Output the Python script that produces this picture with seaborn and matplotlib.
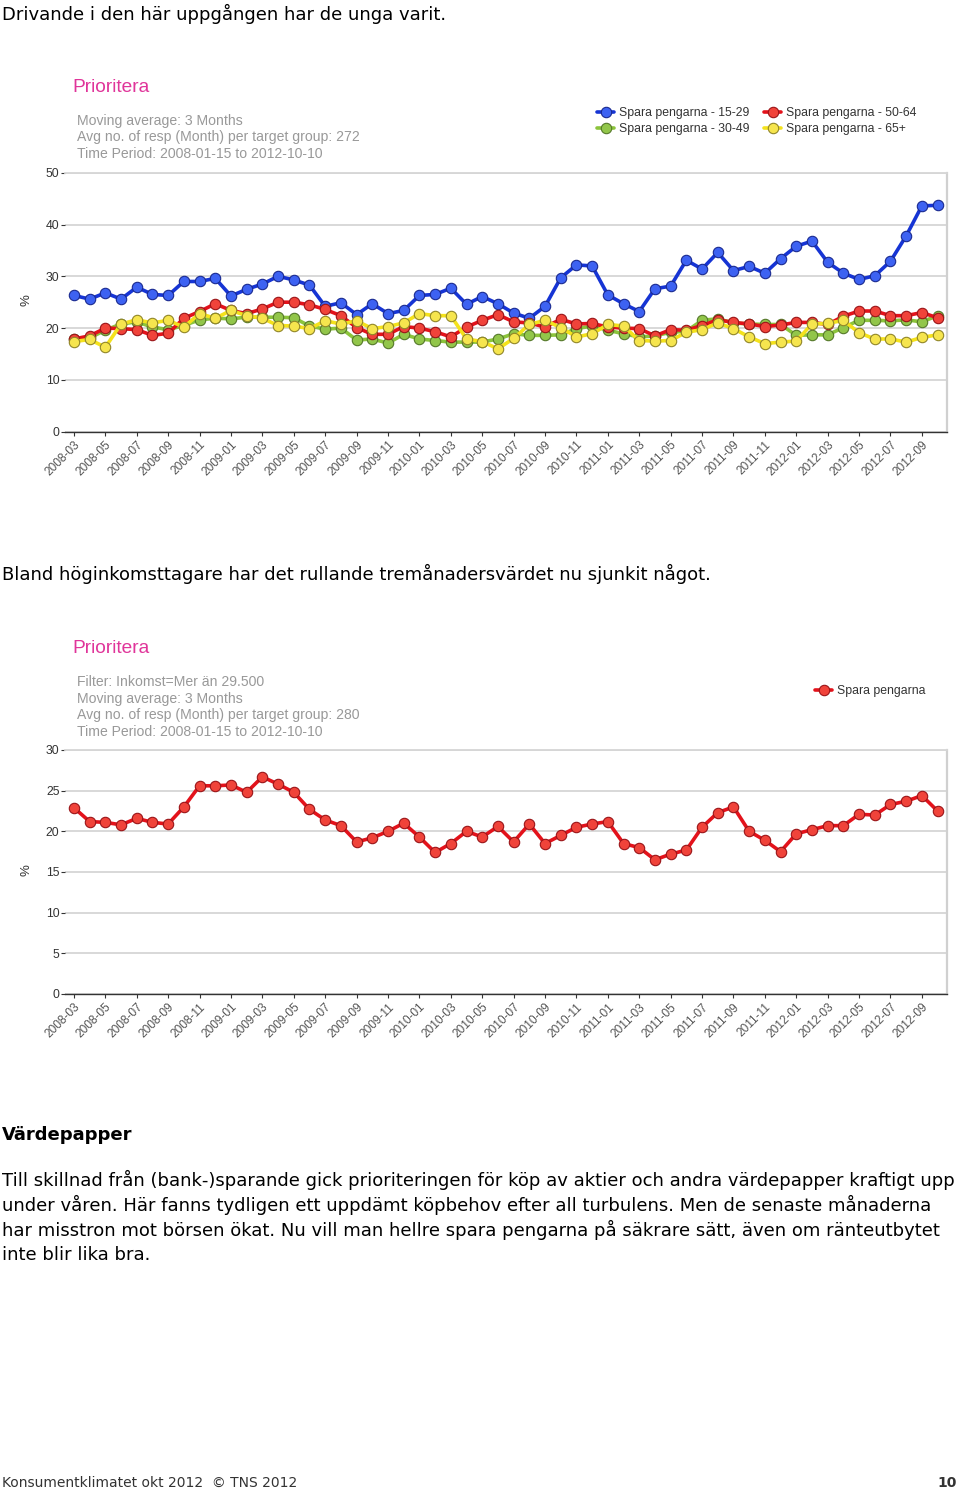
import numpy as np
import pandas as pd
import matplotlib
matplotlib.use("Agg")
import matplotlib.pyplot as plt
import seaborn as sns

# =====================================================
# DATA
# =====================================================
months = [str(p) for p in pd.period_range("2008-03", "2012-10", freq="M")]
tick_labels = months[::2][:28]

ung_15_29 = [26.3, 25.6, 26.8, 25.6, 27.9, 26.5, 26.3, 29.0, 29.0, 29.6,
             26.2, 27.5, 28.5, 30.0, 29.3, 28.3, 24.2, 24.9, 22.6, 24.7,
             22.8, 23.4, 26.3, 26.5, 27.7, 24.6, 26.1, 24.7, 22.9, 21.9,
             24.2, 29.7, 32.2, 32.0, 26.4, 24.7, 23.2, 27.6, 28.1, 33.1,
             31.4, 34.6, 31.1, 31.9, 30.6, 33.4, 35.8, 36.8, 32.7, 30.6,
             29.4, 30.1, 32.9, 37.8, 43.6, 43.7]
mid_30_49 = [17.9, 18.1, 19.6, 20.8, 21.2, 20.2, 19.7, 20.5, 21.6, 21.9,
             21.8, 22.1, 22.1, 22.1, 22.0, 20.4, 19.8, 20.0, 17.7, 17.9,
             17.1, 18.8, 17.9, 17.6, 17.3, 17.3, 17.3, 17.9, 18.9, 18.6,
             18.6, 18.7, 19.9, 20.4, 19.6, 18.9, 18.3, 18.5, 19.2, 19.4,
             21.5, 21.8, 21.0, 20.8, 20.7, 20.7, 18.6, 18.7, 18.7, 20.1,
             21.5, 21.5, 21.4, 21.6, 21.2, 22.4]
aldre_50_64 = [17.9, 18.5, 20.0, 19.9, 19.7, 18.6, 19.0, 21.9, 23.2, 24.7,
               23.4, 22.8, 23.7, 25.0, 25.0, 24.5, 23.6, 22.4, 20.1, 18.8,
               18.8, 20.3, 20.0, 19.3, 18.3, 20.2, 21.5, 22.6, 21.2, 21.0,
               20.2, 21.7, 20.8, 20.9, 20.2, 20.0, 19.9, 18.5, 19.7, 19.6,
               20.5, 21.6, 21.1, 20.8, 20.3, 20.6, 21.1, 21.1, 20.7, 22.3,
               23.3, 23.3, 22.4, 22.4, 23.0, 22.0]
pension_65 = [17.4, 17.8, 16.3, 20.8, 21.6, 21.0, 21.5, 20.2, 22.8, 21.9,
              23.4, 22.4, 21.9, 20.5, 20.4, 19.9, 21.4, 20.8, 21.4, 19.9,
              20.3, 21.0, 22.8, 22.4, 22.4, 17.9, 17.4, 16.0, 18.0, 20.7,
              21.5, 20.1, 18.3, 18.9, 20.7, 20.4, 17.6, 17.5, 17.6, 19.2,
              19.7, 21.0, 19.9, 18.3, 17.0, 17.3, 17.5, 20.8, 20.9, 21.5,
              19.1, 17.9, 17.9, 17.3, 18.2, 18.7]
hoginkomst = [22.9, 21.2, 21.1, 20.8, 21.6, 21.1, 20.9, 23.0, 25.6, 25.6,
              25.7, 24.8, 26.7, 25.8, 24.8, 22.7, 21.4, 20.7, 18.7, 19.2,
              20.0, 21.0, 19.3, 17.4, 18.5, 20.0, 19.3, 20.6, 18.7, 20.9,
              18.5, 19.5, 20.5, 20.9, 21.2, 18.5, 18.0, 16.5, 17.2, 17.7,
              20.5, 22.3, 23.0, 20.0, 18.9, 17.5, 19.7, 20.2, 20.7, 20.7,
              22.1, 22.0, 23.3, 23.7, 24.4, 22.5]

series_names = ["Spara pengarna - 15-29", "Spara pengarna - 30-49",
                "Spara pengarna - 50-64", "Spara pengarna - 65+"]

# line colour, marker face, marker edge
styles = {
    "Spara pengarna - 15-29": ("#1634d4", "#3d62f2", "#1a2a90"),
    "Spara pengarna - 30-49": ("#8cc43c", "#92c64a", "#55782a"),
    "Spara pengarna - 50-64": ("#e3121b", "#f0433a", "#9a1418"),
    "Spara pengarna - 65+": ("#f4e21c", "#f6e54e", "#918628"),
    "Spara pengarna": ("#e3121b", "#f0433a", "#9a1418"),
}

df1 = pd.DataFrame({
    "idx": np.tile(np.arange(len(months)), 4),
    "value": ung_15_29 + mid_30_49 + aldre_50_64 + pension_65,
    "series": np.repeat(series_names, len(months)),
})
df2 = pd.DataFrame({
    "idx": np.arange(len(months)),
    "value": hoginkomst,
    "series": "Spara pengarna",
})

# =====================================================
# FIGURE
# =====================================================
sns.set_theme(style="white")
plt.rcParams["font.family"] = ["DejaVu Sans"]

W, H = 960, 1493
fig = plt.figure(figsize=(W / 100, H / 100), dpi=100)


def px_axes(left, top, right, bottom):
    return fig.add_axes([left / W, 1 - bottom / H, (right - left) / W, (bottom - top) / H])


def draw_chart(ax, data, order, ymax, ystep):
    sns.lineplot(data=data, x="idx", y="value", hue="series", hue_order=order,
                 palette={k: styles[k][0] for k in order}, marker="o",
                 markersize=7.5, linewidth=2.6, ax=ax, legend=False)
    for line, name in zip(ax.lines, order):
        line.set_markerfacecolor(styles[name][1])
        line.set_markeredgecolor(styles[name][2])
        line.set_markeredgewidth(0.8)
    ax.set_xlim(-0.57, 55.6)
    ax.set_ylim(0, ymax)
    ax.set_yticks(np.arange(0, ymax + 1, ystep))
    ax.set_xticks(np.arange(0, 56, 2))
    ax.set_xticklabels(tick_labels, rotation=45, ha="right", rotation_mode="anchor",
                       fontsize=8.6, color="#555555", family="Liberation Sans")
    ax.tick_params(axis="y", labelsize=8.8, labelcolor="#333333", length=3,
                   width=0.8, color="#333333", pad=1, left=True)
    ax.tick_params(axis="x", length=3, width=0.8, color="#333333", pad=2, bottom=True)
    for lab in ax.get_yticklabels():
        lab.set_family("Liberation Sans")
    ax.grid(axis="y", color="#d6d6d6", linewidth=1.3)
    ax.grid(axis="x", visible=False)
    ax.set_axisbelow(True)
    ax.spines["left"].set_visible(False)
    ax.spines["top"].set_color("#d6d6d6")
    ax.spines["top"].set_linewidth(1.3)
    ax.spines["right"].set_color("#d0d0d0")
    ax.spines["right"].set_linewidth(1.6)
    ax.spines["bottom"].set_color("#333333")
    ax.spines["bottom"].set_linewidth(1.0)
    ax.set_xlabel("")
    ax.set_ylabel("")


# =====================================================
# CHART 1: AGE GROUPS
# =====================================================
ax1 = px_axes(65, 172.7, 947, 431.7)
draw_chart(ax1, df1, series_names, 50, 10)
leg1 = ax1.legend(handles=ax1.lines[:4], labels=series_names, ncol=2,
                  loc="center left", bbox_to_anchor=(586 / W, 1 - 121 / H),
                  bbox_transform=fig.transFigure, frameon=False,
                  handlelength=1.4, handletextpad=0.4,
                  columnspacing=1.2, labelspacing=0.35,
                  prop={"family": "Liberation Sans", "size": 8.8})
for t in leg1.get_texts():
    t.set_color("#333333")

# =====================================================
# CHART 2: HIGH INCOME
# =====================================================
ax2 = px_axes(65, 750, 947, 994)
draw_chart(ax2, df2, ["Spara pengarna"], 30, 5)
leg2 = ax2.legend(handles=ax2.lines[:1], labels=["Spara pengarna"],
                  loc="center left", bbox_to_anchor=(804 / W, 1 - 691 / H),
                  bbox_transform=fig.transFigure, frameon=False,
                  handlelength=1.4, handletextpad=0.4,
                  prop={"family": "Liberation Sans", "size": 8.8})
for t in leg2.get_texts():
    t.set_color("#333333")

# =====================================================
# TEXTS
# =====================================================
def ftext(x, y, s, **kw):
    fig.text(x / W, 1 - y / H, s, va="center", **kw)


body = dict(fontsize=13, color="#000000", family="DejaVu Sans")
ftext(2, 14, "Drivande i den här uppgången har de unga varit.", **body)
ftext(2, 574, "Bland höginkomsttagare har det rullande tremånadersvärdet nu sjunkit något.", **body)
ftext(2, 1135, "Värdepapper", fontweight="bold", **body)
para = [
    "Till skillnad från (bank-)sparande gick prioriteringen för köp av aktier och andra värdepapper kraftigt upp",
    "under våren. Här fanns tydligen ett uppdämt köpbehov efter all turbulens. Men de senaste månaderna",
    "har misstron mot börsen ökat. Nu vill man hellre spara pengarna på säkrare sätt, även om ränteutbytet",
    "inte blir lika bra.",
]
for k, line in enumerate(para):
    ftext(2, 1180 + 25 * k, line, **body)

head = dict(fontsize=10.1, color="#999999", family="Liberation Sans")
ftext(72, 88, "Prioritera", fontsize=13.8, color="#e0359a", family="Liberation Sans")
for k, line in enumerate(["Moving average: 3 Months",
                          "Avg no. of resp (Month) per target group: 272",
                          "Time Period: 2008-01-15 to 2012-10-10"]):
    ftext(77, 121 + 16.5 * k, line, **head)

ftext(72, 649, "Prioritera", fontsize=13.8, color="#e0359a", family="Liberation Sans")
for k, line in enumerate(["Filter: Inkomst=Mer än 29.500",
                          "Moving average: 3 Months",
                          "Avg no. of resp (Month) per target group: 280",
                          "Time Period: 2008-01-15 to 2012-10-10"]):
    ftext(77, 682 + 16.5 * k, line, **head)

ftext(26, 300, "%", rotation=90, ha="center", fontsize=9.5, color="#333333",
      family="Liberation Sans")
ftext(26, 870, "%", rotation=90, ha="center", fontsize=9.5, color="#333333",
      family="Liberation Sans")

ftext(2, 1483, "Konsumentklimatet okt 2012  © TNS 2012", fontsize=10,
      color="#333333", family="DejaVu Sans")
ftext(957, 1483, "10", ha="right", fontsize=10, fontweight="bold",
      color="#333333", family="DejaVu Sans")

fig.savefig("out.png", dpi=100)
plt.close(fig)
